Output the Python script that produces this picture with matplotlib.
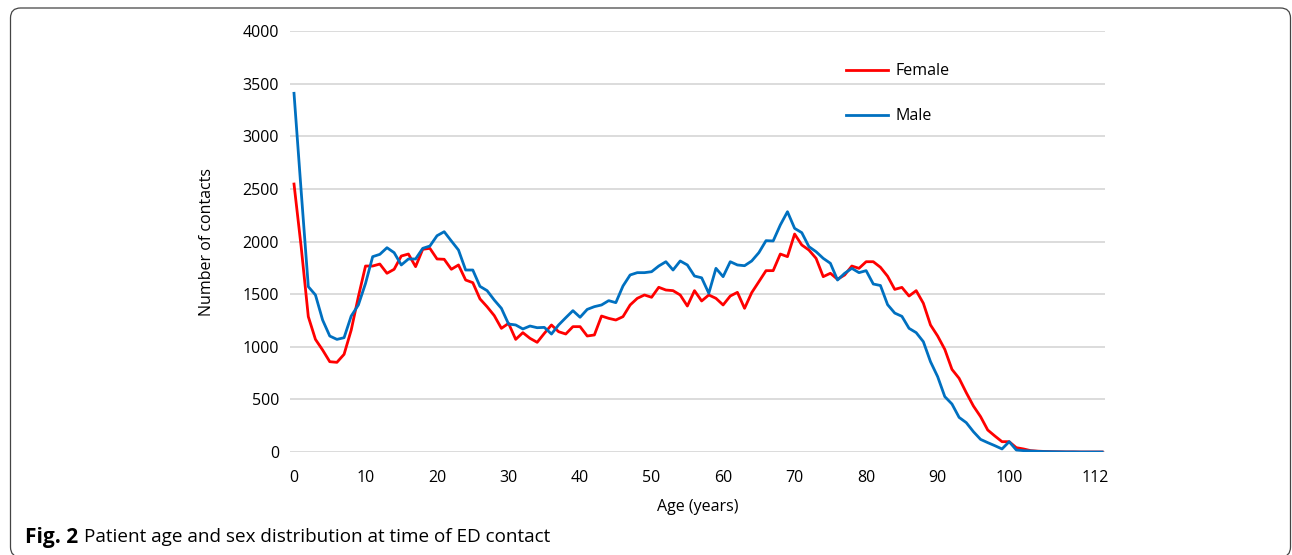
import numpy as np
import matplotlib.pyplot as plt
from matplotlib.patches import FancyBboxPatch

plt.rcParams['font.family'] = ['Open Sans', 'DejaVu Sans']

# ED contacts per age (0..113)
ages = np.arange(0, 114)
female = [2546, 1950, 1286, 1070, 969, 858, 852, 928, 1159, 1476,
          1767, 1767, 1786, 1698, 1736, 1862, 1881, 1761, 1926, 1935,
          1834, 1831, 1736, 1777, 1634, 1609, 1455, 1380, 1296, 1175,
          1222, 1070, 1134, 1080, 1042, 1127, 1207, 1143, 1121, 1191,
          1191, 1102, 1112, 1292, 1270, 1254, 1286, 1397, 1460, 1492,
          1470, 1565, 1539, 1533, 1492, 1387, 1533, 1435, 1492, 1460,
          1397, 1482, 1517, 1365, 1514, 1618, 1723, 1723, 1881, 1856,
          2071, 1967, 1919, 1840, 1666, 1698, 1641, 1682, 1767, 1745,
          1808, 1808, 1755, 1670, 1545, 1564, 1482, 1533, 1413, 1207,
          1102, 975, 785, 700, 564, 437, 336, 209, 152, 98,
          98, 41, 29, 13, 8, 5, 3, 2, 1, 1,
          0, 0, 0, 0]
male = [3408, 2480, 1571, 1492, 1254, 1102, 1070, 1086, 1292, 1397,
        1602, 1856, 1878, 1941, 1894, 1777, 1834, 1834, 1935, 1957,
        2055, 2093, 2005, 1919, 1729, 1729, 1574, 1533, 1444, 1365,
        1216, 1207, 1169, 1197, 1181, 1184, 1121, 1207, 1276, 1343,
        1280, 1355, 1381, 1397, 1438, 1419, 1577, 1682, 1704, 1704,
        1713, 1767, 1808, 1729, 1815, 1777, 1672, 1655, 1508, 1745,
        1666, 1808, 1777, 1770, 1815, 1894, 2008, 2005, 2157, 2283,
        2125, 2084, 1951, 1903, 1840, 1793, 1634, 1698, 1745, 1704,
        1723, 1596, 1582, 1400, 1320, 1289, 1175, 1134, 1048, 858,
        716, 526, 456, 329, 279, 193, 120, 89, 60, 29,
        98, 19, 13, 10, 6, 4, 3, 2, 1, 1,
        0, 0, 0, 0]
xticks = [0, 10, 20, 30, 40, 50, 60, 70, 80, 90, 100, 112]
yticks = list(range(0, 4001, 500))

fig = plt.figure(figsize=(12.92, 5.55), dpi=100)
ax = fig.add_axes([290 / 1292, 1 - 452 / 555, 815 / 1292, 421 / 555])

ax.plot(ages, female, color='#FF0000', lw=2.0, label='Female', zorder=3)
ax.plot(ages, male, color='#0070C0', lw=2.0, label='Male', zorder=4)

ax.set_xlim(-0.56, 113.4)
ax.set_ylim(0, 4000)
ax.set_xticks(xticks)
ax.set_yticks(yticks)
ax.tick_params(length=0, labelsize=11.5)
ax.tick_params(axis='x', pad=13)
ax.tick_params(axis='y', pad=8)
ax.yaxis.grid(True, color='#d9d9d9', lw=1.3)
ax.set_axisbelow(True)
for s in ax.spines.values():
    s.set_visible(False)
ax.set_xlabel('Age (years)', fontsize=11.5, labelpad=9)
ax.set_ylabel('Number of contacts', fontsize=11.5, labelpad=20)

ax.legend(loc='upper left', bbox_to_anchor=(0.673, 0.942), frameon=False,
          fontsize=11.5, handlelength=2.6, handletextpad=0.5,
          labelspacing=1.8, borderpad=0)

# frame around the figure, as in the journal layout
box = FancyBboxPatch((0.105, -0.02), 12.80, 5.49, boxstyle='round,pad=0,rounding_size=0.1',
                     transform=fig.dpi_scale_trans, fill=False, ec='#444444', lw=0.9)
fig.patches.append(box)

fig.text(25 / 1292, 18 / 555, 'Fig. 2', fontsize=15, fontweight='bold', va='center')
fig.text(84 / 1292, 18 / 555, 'Patient age and sex distribution at time of ED contact',
         fontsize=13.6, va='center')

fig.savefig('out.png', dpi=100)
